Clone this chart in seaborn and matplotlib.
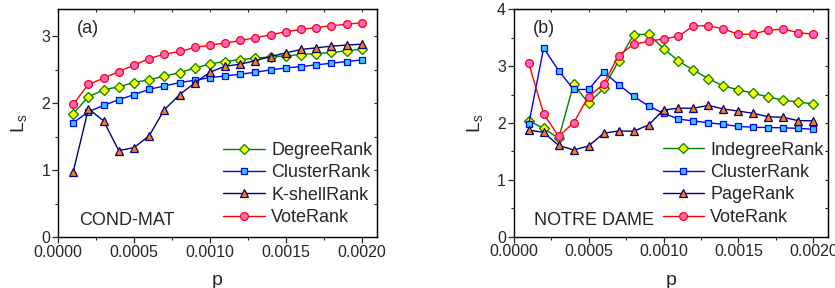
import numpy as np
import pandas as pd
import matplotlib
matplotlib.use("Agg")
import matplotlib.pyplot as plt
from matplotlib.ticker import MultipleLocator, FormatStrFormatter
import seaborn as sns

# ---------------- data ----------------
p = [0.0001 * i for i in range(1, 21)]

# (a) COND-MAT
a_degree = [1.84, 2.095, 2.195, 2.245, 2.305, 2.35, 2.40, 2.455, 2.52, 2.585,
            2.62, 2.65, 2.67, 2.69, 2.705, 2.725, 2.74, 2.755, 2.78, 2.805]
a_cluster = [1.705, 1.87, 1.965, 2.05, 2.125, 2.205, 2.255, 2.305, 2.34, 2.38,
             2.405, 2.43, 2.46, 2.495, 2.525, 2.545, 2.57, 2.595, 2.62, 2.645]
a_kshell = [0.97, 1.915, 1.735, 1.29, 1.335, 1.51, 1.90, 2.125, 2.30, 2.46,
            2.55, 2.58, 2.635, 2.695, 2.75, 2.80, 2.825, 2.85, 2.865, 2.88]
a_vote = [1.98, 2.28, 2.37, 2.47, 2.565, 2.665, 2.73, 2.77, 2.83, 2.865,
          2.895, 2.935, 2.975, 3.02, 3.065, 3.10, 3.125, 3.155, 3.175, 3.20]

# (b) NOTRE DAME
b_indegree = [2.04, 1.905, 1.73, 2.68, 2.345, 2.61, 3.09, 3.555, 3.56, 3.31,
              3.09, 2.93, 2.78, 2.65, 2.585, 2.52, 2.46, 2.40, 2.37, 2.335]
b_cluster = [1.975, 3.32, 2.92, 2.59, 2.59, 2.90, 2.675, 2.47, 2.30, 2.17,
             2.07, 2.035, 2.005, 1.975, 1.94, 1.925, 1.92, 1.915, 1.905, 1.89]
b_page = [1.875, 1.835, 1.605, 1.525, 1.595, 1.82, 1.86, 1.855, 1.965, 2.23,
          2.26, 2.26, 2.31, 2.245, 2.21, 2.17, 2.11, 2.10, 2.04, 2.04]
b_vote = [3.055, 2.16, 1.765, 2.005, 2.465, 2.685, 3.185, 3.385, 3.435, 3.48,
          3.525, 3.71, 3.71, 3.655, 3.56, 3.565, 3.635, 3.65, 3.59, 3.56]

xticks = [0.0000, 0.0005, 0.0010, 0.0015, 0.0020]

# ---------------- style ----------------
sns.set_style("ticks")
plt.rcParams["font.family"] = ["Liberation Sans", "DejaVu Sans"]
plt.rcParams["mathtext.fontset"] = "custom"
plt.rcParams["mathtext.rm"] = "Liberation Sans"
plt.rcParams["mathtext.it"] = "Liberation Sans"

fig = plt.figure(figsize=(8.35, 2.88), dpi=100)
axA = fig.add_axes([58 / 835, 51 / 288, 319 / 835, 227.7 / 288])
axB = fig.add_axes([513.7 / 835, 51.3 / 288, 314.6 / 835, 227.4 / 288])

styles = {
    "green": dict(color="#008000", marker="D", markerfacecolor="#ffff00",
                  markeredgecolor="#008000", markersize=4.6),
    "blue": dict(color="#0000ff", marker="s", markerfacecolor="#33ccff",
                 markeredgecolor="#0000ff", markersize=4.6),
    "navy": dict(color="#000080", marker="^", markerfacecolor="#ff8000",
                 markeredgecolor="#000080", markersize=5.8),
    "red": dict(color="#ff0000", marker="o", markerfacecolor="#ff66cc",
                markeredgecolor="#ff0000", markersize=5.6),
}


def draw(ax, series, ylim, yticks, panel, name):
    for label, vals, st in series:
        df = pd.DataFrame({"p": p, "L": vals})
        sns.lineplot(data=df, x="p", y="L", ax=ax, label=label, linewidth=1.0,
                     markeredgewidth=0.9, **st)
    ax.set_xlim(0, 0.0021)
    ax.set_ylim(*ylim)
    ax.set_xticks(xticks)
    ax.xaxis.set_major_formatter(FormatStrFormatter("%.4f"))
    ax.xaxis.set_minor_locator(MultipleLocator(0.00025))
    ax.set_yticks(yticks)
    ax.yaxis.set_minor_locator(MultipleLocator(0.5))
    ax.tick_params(axis="both", which="major", labelsize=11.5, direction="out",
                   length=4, width=0.9, pad=1.5)
    ax.tick_params(axis="both", which="minor", direction="out", length=2.5,
                   width=0.8)
    for s in ax.spines.values():
        s.set_visible(True)
        s.set_linewidth(1.0)
        s.set_color("black")
    ax.set_xlabel("p", fontsize=14, labelpad=9)
    ax.set_ylabel(r"L$_{\mathrm{s}}$", fontsize=14, labelpad=9)
    # inward ticks on top/right
    sec_x = ax.secondary_xaxis("top")
    sec_x.set_xticks(np.arange(0, 0.0021, 0.00025))
    sec_x.tick_params(direction="in", length=2.5, width=0.8, labeltop=False)
    sec_x.set_xticklabels([])
    sec_y = ax.secondary_yaxis("right")
    sec_y.set_yticks(np.arange(0, ylim[1] + 0.01, 0.5))
    sec_y.tick_params(direction="in", length=2.5, width=0.8, labelright=False)
    sec_y.set_yticklabels([])
    ax.text(0.06, 0.955, panel, transform=ax.transAxes, fontsize=13,
            ha="left", va="top")
    ax.text(0.065, 0.035, name, transform=ax.transAxes, fontsize=13,
            ha="left", va="bottom")
    ax.legend(loc="lower right", bbox_to_anchor=(1.02, 0.0), frameon=False,
              fontsize=13, handlelength=2.3, handletextpad=0.35,
              labelspacing=0.3, borderaxespad=0.2)


draw(axA, [("DegreeRank", a_degree, styles["green"]),
           ("ClusterRank", a_cluster, styles["blue"]),
           ("K-shellRank", a_kshell, styles["navy"]),
           ("VoteRank", a_vote, styles["red"])],
     (0, 3.4), [0, 1, 2, 3], "(a)", "COND-MAT")

draw(axB, [("IndegreeRank", b_indegree, styles["green"]),
           ("ClusterRank", b_cluster, styles["blue"]),
           ("PageRank", b_page, styles["navy"]),
           ("VoteRank", b_vote, styles["red"])],
     (0, 4.0), [0, 1, 2, 3, 4], "(b)", "NOTRE DAME")

fig.savefig("out.png", dpi=100)
